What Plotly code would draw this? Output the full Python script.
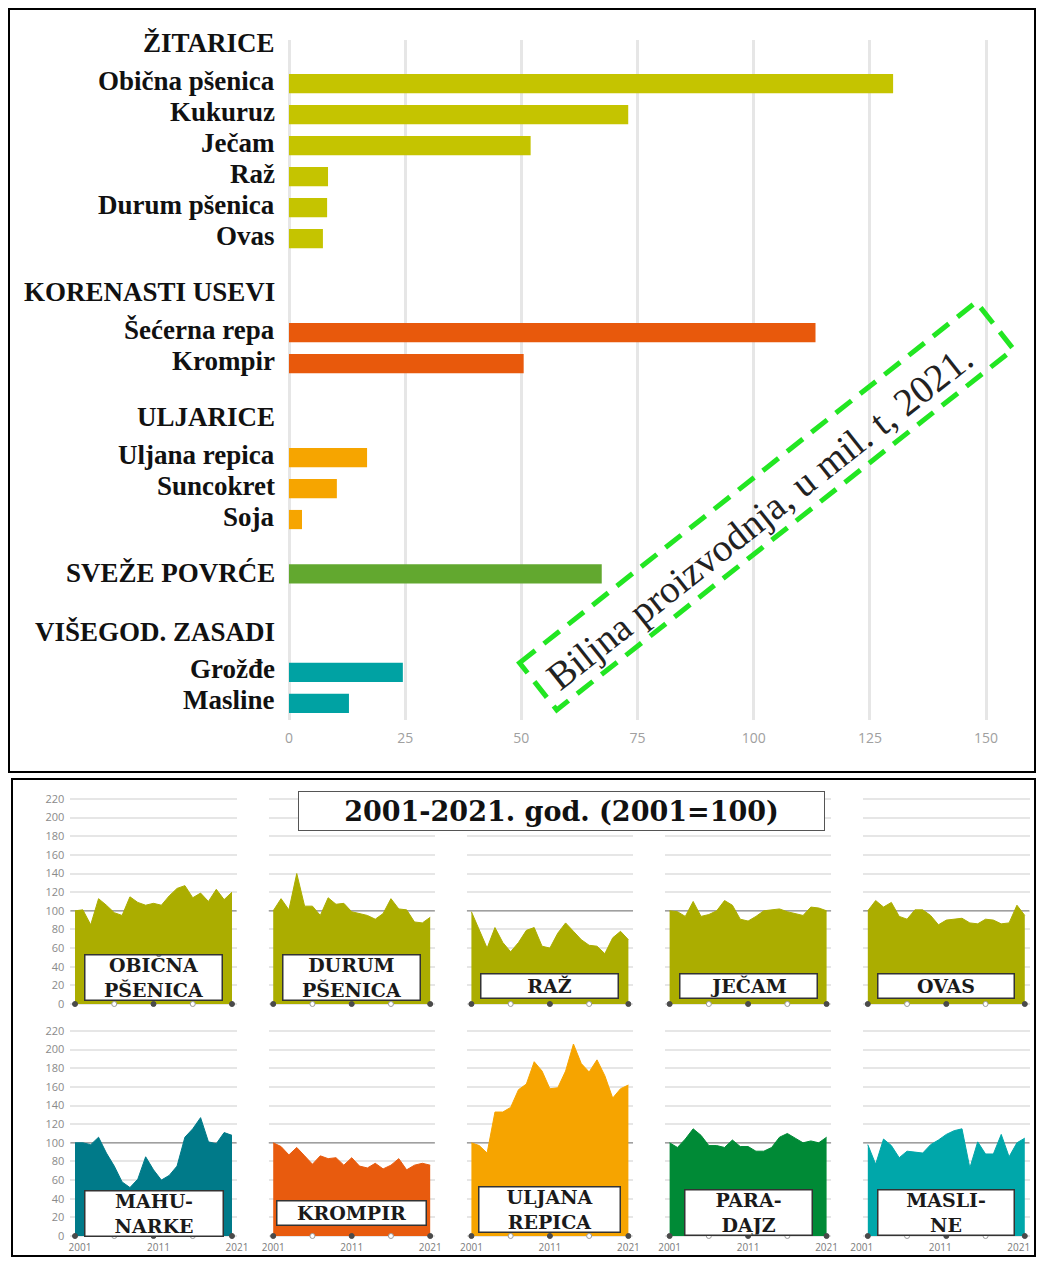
import math
import plotly.graph_objects as go

# page body keeps its default 8px margin, so the figure spans screen px 8..1036 x 8..1257
PAGE_W, PAGE_H, BODY_M = 1044, 1265, 8
W, H = PAGE_W - 2 * BODY_M, PAGE_H - 2 * BODY_M

# ---------------- data: plant production, mil. t, 2021 ----------------
group_names = ["ŽITARICE", "KORENASTI USEVI", "ULJARICE", "SVEŽE POVRĆE", "VIŠEGOD. ZASADI"]
zitarice_items = ["Obična pšenica", "Kukuruz", "Ječam", "Raž", "Durum pšenica", "Ovas"]
zitarice_values = [130, 73, 52, 8.4, 8.2, 7.3]
korenasti_items = ["Šećerna repa", "Krompir"]
korenasti_values = [113.3, 50.5]
uljarice_items = ["Uljana repica", "Suncokret", "Soja"]
uljarice_values = [16.8, 10.3, 2.8]
povrce_value = 67.3
zasadi_items = ["Grožđe", "Masline"]
zasadi_values = [24.5, 12.9]
bar_colors = ["#C5C400", "#E8590C", "#F6A500", "#62A82F", "#00A2A3"]
bar_x_ticks = [0, 25, 50, 75, 100, 125, 150]

# ---------------- data: indices 2001-2021 (2001=100) ----------------
years = list(range(2001, 2022))
obicna_psenica = [100, 101, 85, 113, 106, 98, 95, 115, 109, 106, 108, 106, 116, 124, 127, 114, 119, 110, 123, 112, 120]
durum_psenica = [100, 113, 101, 140, 105, 105, 95, 114, 107, 108, 99, 97, 95, 91, 97, 113, 102, 101, 88, 87, 93]
raz = [99, 79, 60, 82, 66, 56, 66, 79, 82, 62, 60, 76, 87, 78, 69, 63, 62, 54, 71, 78, 69]
jecam = [100, 99, 94, 110, 94, 96, 100, 111, 106, 91, 89, 94, 100, 101, 102, 99, 97, 95, 104, 103, 100]
ovas = [100, 111, 104, 109, 94, 91, 101, 101, 95, 85, 90, 91, 92, 87, 86, 91, 90, 86, 87, 106, 95]
mahunarke = [100, 100, 98, 106, 89, 75, 58, 52, 61, 85, 71, 60, 65, 75, 106, 115, 127, 101, 99, 111, 108]
krompir = [100, 96, 87, 95, 86, 77, 86, 83, 84, 76, 84, 75, 73, 78, 72, 76, 83, 71, 76, 78, 76]
uljana_repica = [100, 97, 89, 133, 133, 138, 157, 163, 187, 177, 158, 159, 177, 206, 185, 176, 189, 172, 148, 158, 162]
paradajz = [100, 95, 104, 115, 108, 97, 97, 95, 103, 96, 96, 91, 91, 95, 106, 110, 105, 100, 102, 100, 106]
masline = [98, 77, 104, 97, 84, 91, 90, 89, 98, 103, 109, 113, 115, 73, 101, 88, 88, 109, 85, 100, 105]

panel_series = [obicna_psenica, durum_psenica, raz, jecam, ovas,
                mahunarke, krompir, uljana_repica, paradajz, masline]
panel_titles = ["OBIČNA<br>PŠENICA", "DURUM<br>PŠENICA", "RAŽ", "JEČAM", "OVAS",
                "MAHU-<br>NARKE", "KROMPIR", "ULJANA<br>REPICA", "PARA-<br>DAJZ", "MASLI-<br>NE"]
panel_colors = ["#ABAD00", "#ABAD00", "#ABAD00", "#ABAD00", "#ABAD00",
                "#007A89", "#E85B0E", "#F6A400", "#008A36", "#00A7AA"]
base_index = 100
idx_y_ticks = list(range(0, 221, 20))
idx_x_ticks = [2001, 2011, 2021]
title_text = "2001-2021. god. (2001=100)"
note_text = "Biljna proizvodnja, u mil. t, 2021."


def fx(px):
    """screen pixel x -> paper x"""
    return (px - BODY_M) / W


def fy(py):
    """screen pixel y -> paper y"""
    return 1 - (py - BODY_M) / H


fig = go.Figure()
annotations = []
shapes = []

# ---------------- top: horizontal bar chart ----------------
groups = [
    (group_names[0], zitarice_items, zitarice_values),
    (group_names[1], korenasti_items, korenasti_values),
    (group_names[2], uljarice_items, uljarice_values),
    (group_names[3], [], [povrce_value]),
    (group_names[4], zasadi_items, zasadi_values),
]
HEADER_TO_ITEM = 1.28
ITEM_TO_HEADER = 1.75
BARHEADER_TO_HEADER = 1.9

bar_y, bar_x, bar_c = [], [], []
labels = []
p = 0.0
for gi, (gname, items, vals) in enumerate(groups):
    labels.append((gname, p, True))
    if items:
        p += HEADER_TO_ITEM
        for k, (it, v) in enumerate(zip(items, vals)):
            labels.append((it, p, False))
            bar_y.append(p)
            bar_x.append(v)
            bar_c.append(bar_colors[gi])
            if k < len(items) - 1:
                p += 1
        p += ITEM_TO_HEADER
    else:
        bar_y.append(p)
        bar_x.append(vals[0])
        bar_c.append(bar_colors[gi])
        p += BARHEADER_TO_HEADER

fig.add_trace(go.Bar(
    orientation="h", x=bar_x, y=bar_y, width=0.62,
    marker=dict(color=bar_c, line=dict(width=0)),
    xaxis="x", yaxis="y", showlegend=False, hoverinfo="skip",
))

row_px, row0_px = 31.0, 44.0
top_px, bot_px = 40.0, 720.0
x0_px, unit_px = 289.0, 4.647
fig.update_layout(
    xaxis=dict(domain=[fx(x0_px), fx(x0_px + 160 * unit_px)], range=[0, 160],
               anchor="y", tickvals=bar_x_ticks, ticktext=[str(t) for t in bar_x_ticks],
               showgrid=True, gridcolor="#E6E6E6", gridwidth=2.5,
               zeroline=True, zerolinecolor="#E6E6E6", zerolinewidth=2.5,
               showline=False, ticks="", ticklabelstandoff=8, automargin=False,
               tickfont=dict(family="Open Sans", size=14, color="#A0A0A0")),
    yaxis=dict(domain=[fy(bot_px), fy(top_px)],
               range=[(bot_px - row0_px) / row_px, (top_px - row0_px) / row_px],
               anchor="x", showgrid=False, zeroline=False, showticklabels=False,
               showline=False, ticks="", automargin=False),
)

for text, pos, is_header in labels:
    annotations.append(dict(
        x=fx(277), xref="paper", xanchor="right", y=pos, yref="y", yanchor="middle",
        yshift=(1 if is_header else 3), text="<b>" + text + "</b>", showarrow=False,
        font=dict(family="Liberation Serif", size=27, color="#111111"),
    ))

# rotated dashed box with note
theta = math.radians(38.3)
cx, cy = 766.5, 506.0
L, Hb = 582.0, 60.0
ux, uy = math.cos(theta), -math.sin(theta)
vx, vy = math.sin(theta), math.cos(theta)
corners = []
for a, b in [(-1, -1), (1, -1), (1, 1), (-1, 1)]:
    px_ = cx + a * L / 2 * ux + b * Hb / 2 * vx
    py_ = cy + a * L / 2 * uy + b * Hb / 2 * vy
    corners.append((fx(px_), fy(py_)))
path = "M " + " L ".join(f"{a:.5f},{b:.5f}" for a, b in corners) + " Z"
shapes.append(dict(type="path", path=path, xref="paper", yref="paper",
                   line=dict(color="#22E622", width=5, dash="20px,11px"),
                   fillcolor="rgba(0,0,0,0)", layer="above"))
tcx = cx - 12 * ux + 5 * vx
tcy = cy - 12 * uy + 5 * vy
annotations.append(dict(
    x=fx(tcx), y=fy(tcy), xref="paper", yref="paper", xanchor="center", yanchor="middle",
    text=note_text, textangle=-38.3, showarrow=False,
    font=dict(family="Liberation Serif", size=39, color="#222222"),
))

# outer borders
shapes.append(dict(type="rect", xref="paper", yref="paper",
                   x0=fx(9), x1=fx(1035), y0=fy(772), y1=fy(9),
                   line=dict(color="#000000", width=2), layer="above"))
shapes.append(dict(type="rect", xref="paper", yref="paper",
                   x0=fx(12), x1=fx(1035), y0=fy(1256), y1=fy(779),
                   line=dict(color="#000000", width=2), layer="above"))

# ---------------- bottom: small multiples ----------------
panel_left0, panel_step, panel_w = 70.3, 198.2, 166.4
row_zero_px = [1004.0, 1236.0]
v_px = 0.932
x_pad = 0.6
box_w = [139, 139, 139, 139, 138, 140, 151, 143, 129, 138]
box_cy = [977.5, 977.5, 986, 986, 986, 1213, 1212.5, 1209, 1212, 1212]
x_label_shift = [5, 0, 0, 0, -6]

for i, series in enumerate(panel_series):
    r, c = divmod(i, 5)
    n = i + 2
    xa, ya = f"x{n}", f"y{n}"
    left = panel_left0 + panel_step * c
    z = row_zero_px[r]
    top = z - 224 * v_px
    bot = z + 2 * v_px
    x_range = [years[0] - x_pad, years[-1] + x_pad]
    # reference line at 2001 = 100, drawn under the area
    fig.add_trace(go.Scatter(
        x=x_range, y=[base_index, base_index], mode="lines",
        line=dict(color="#A0A0A0", width=1.5),
        xaxis=xa, yaxis=ya, showlegend=False, hoverinfo="skip",
    ))
    fig.add_trace(go.Scatter(
        x=years, y=series, mode="lines", fill="tozeroy",
        line=dict(color=panel_colors[i], width=1), fillcolor=panel_colors[i],
        xaxis=xa, yaxis=ya, showlegend=False, hoverinfo="skip",
    ))
    dot_years = years[::5]
    fig.add_trace(go.Scatter(
        x=dot_years, y=[0] * len(dot_years), mode="markers", cliponaxis=False,
        marker=dict(size=5, color=["#4A4A4A" if k % 2 == 0 else "#FFFFFF" for k in range(len(dot_years))],
                    line=dict(color=["#4A4A4A" if k % 2 == 0 else "#9A9A9A" for k in range(len(dot_years))], width=1)),
        xaxis=xa, yaxis=ya, showlegend=False, hoverinfo="skip",
    ))
    fig.update_layout({
        f"xaxis{n}": dict(domain=[fx(left), fx(left + panel_w)], range=x_range,
                          anchor=ya, showgrid=False, zeroline=False, showline=False, ticks="",
                          tickvals=idx_x_ticks, showticklabels=(r == 1), ticklabelstandoff=2,
                          ticklabelshift=x_label_shift[c],
                          automargin=False, ticklabeloverflow="allow",
                          tickfont=dict(family="Open Sans", size=10, color="#7A7A7A")),
        f"yaxis{n}": dict(domain=[fy(bot), fy(top)], range=[-2, 224], anchor=xa,
                          tickvals=idx_y_ticks, showticklabels=(c == 0), ticklabelstandoff=5,
                          showgrid=True, gridcolor="#E6E6E6", gridwidth=1.5,
                          zeroline=False, showline=False, ticks="", automargin=False,
                          tickfont=dict(family="Open Sans", size=11, color="#8A8A8A")),
    })
    two_lines = "<br>" in panel_titles[i]
    annotations.append(dict(
        x=fx(left + panel_w / 2), y=fy(box_cy[i]), xref="paper", yref="paper",
        xanchor="center", yanchor="middle", showarrow=False,
        text="<b>" + panel_titles[i] + "</b>",
        width=box_w[i] - 3, height=(44 if two_lines else 23), align="center", valign="middle",
        bgcolor="#FFFFFF", bordercolor="#333333", borderwidth=1.5, borderpad=0,
        font=dict(family="DejaVu Serif", size=19, color="#1A1A1A"),
    ))

annotations.append(dict(
    x=fx(561), y=fy(810.5), xref="paper", yref="paper", xanchor="center", yanchor="middle",
    text="<b>" + title_text + "</b>", showarrow=False, width=525, height=38,
    bgcolor="#FFFFFF", bordercolor="#555555", borderwidth=1, borderpad=0,
    font=dict(family="DejaVu Serif", size=27, color="#111111"),
))

fig.update_layout(
    width=W, height=H, margin=dict(l=0, r=0, t=0, b=0, autoexpand=False),
    paper_bgcolor="#FFFFFF", plot_bgcolor="#FFFFFF",
    font=dict(family="Open Sans"), showlegend=False,
    annotations=annotations, shapes=shapes,
)

fig.write_html("out.html", config={"displayModeBar": False})
